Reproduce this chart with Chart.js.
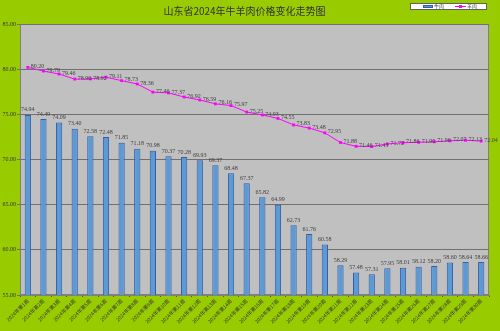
<!DOCTYPE html>
<html>
<head>
<meta charset="utf-8">
<title>山东省2024年牛羊肉价格变化走势图</title>
<script src="https://cdn.jsdelivr.net/npm/chart.js@4.4.1/dist/chart.umd.min.js"></script>
<style>
  html, body { margin: 0; padding: 0; background: #fff; }
  #wrap { width: 500px; height: 331px; }
</style>
</head>
<body>
<div id="wrap"><canvas id="priceChart" width="500" height="331"></canvas></div>
<script>
const weeks = [
  "2024年第1周", "2024年第2周", "2024年第3周", "2024年第4周", "2024年第5周",
  "2024年第6周", "2024年第7周", "2024年第8周", "2024年第9周", "2024年第10周",
  "2024年第11周", "2024年第12周", "2024年第13周", "2024年第14周", "2024年第15周",
  "2024年第16周", "2024年第17周", "2024年第18周", "2024年第19周", "2024年第20周",
  "2024年第21周", "2024年第22周", "2024年第23周", "2024年第24周", "2024年第25周",
  "2024年第26周", "2024年第27周", "2024年第28周", "2024年第29周", "2024年第30周"
];

// 牛肉 (bars)
const beef = [
  74.94, 74.49, 74.09, 73.40, 72.58, 72.48, 71.85, 71.18, 70.98, 70.37,
  70.28, 69.93, 69.37, 68.48, 67.37, 65.82, 64.99, 62.73, 61.76, 60.58,
  58.29, 57.48, 57.31, 57.95, 58.01, 58.12, 58.20, 58.60, 58.64, 58.66
];

// 羊肉 (line)
const mutton = [
  80.20, 79.79, 79.46, 78.90, 78.92, 79.11, 78.73, 78.36, 77.46, 77.37,
  76.92, 76.59, 76.16, 75.97, 75.25, 74.93, 74.55, 73.83, 73.48, 72.95,
  71.88, 71.46, 71.43, 71.72, 71.86, 71.90, 71.96, 72.07, 72.13, 72.04
];

const yTicks = [55, 60, 65, 70, 75, 80, 85];

const numFont = '"Liberation Serif", "DejaVu Serif", serif';
const cjkFont = '"Noto Sans CJK SC", sans-serif';

// green frame + grey plot area
const backdrop = {
  id: 'backdrop',
  beforeDraw(chart) {
    const { ctx, chartArea: a } = chart;
    ctx.save();
    ctx.fillStyle = '#99cc00';
    ctx.fillRect(0, 0, chart.width, chart.height);
    ctx.fillStyle = '#c0c0c0';
    ctx.fillRect(a.left, a.top, a.right - a.left, a.bottom - a.top);
    ctx.strokeStyle = '#808080';
    ctx.lineWidth = 1;
    ctx.strokeRect(a.left + 0.5, a.top + 0.5, a.right - a.left - 1, a.bottom - a.top - 1);
    ctx.restore();
  }
};

// numbers above bars and beside line points
const valueLabels = {
  id: 'valueLabels',
  afterDatasetsDraw(chart) {
    const ctx = chart.ctx;
    ctx.save();
    ctx.font = '6px ' + numFont;
    ctx.fillStyle = '#404040';
    chart.getDatasetMeta(0).data.forEach((el, i) => {
      ctx.textAlign = 'center';
      ctx.textBaseline = 'bottom';
      ctx.fillText(beef[i].toFixed(2), el.x, el.y - 2);
    });
    chart.getDatasetMeta(1).data.forEach((el, i) => {
      ctx.textAlign = 'left';
      ctx.textBaseline = 'middle';
      ctx.fillText(mutton[i].toFixed(2), el.x + 3, el.y - 1);
    });
    ctx.restore();
  }
};

// small boxed legend in the top right corner
const cornerLegend = {
  id: 'cornerLegend',
  afterDraw(chart) {
    const ctx = chart.ctx;
    ctx.save();
    ctx.fillStyle = '#ffffff';
    ctx.fillRect(410, 3, 77, 7);
    ctx.strokeStyle = '#606060';
    ctx.lineWidth = 1;
    ctx.strokeRect(410.5, 3.5, 76, 6);
    ctx.fillStyle = '#5b9bd5';
    ctx.fillRect(423, 5, 10, 3);
    ctx.strokeStyle = '#3a5aa8';
    ctx.strokeRect(423.5, 5.5, 9, 2);
    ctx.strokeStyle = '#ff00ff';
    ctx.beginPath();
    ctx.moveTo(455, 6.5);
    ctx.lineTo(466, 6.5);
    ctx.stroke();
    ctx.fillStyle = '#ff00ff';
    ctx.fillRect(459, 5, 3, 3);
    ctx.font = '5px ' + cjkFont;
    ctx.fillStyle = '#404040';
    ctx.textBaseline = 'middle';
    ctx.fillText('牛肉', 434, 6.5);
    ctx.fillText('羊肉', 467, 6.5);
    ctx.restore();
  }
};

new Chart(document.getElementById('priceChart'), {
  data: {
    labels: weeks,
    datasets: [
      {
        type: 'bar',
        label: '牛肉',
        data: beef,
        backgroundColor: '#5b9bd5',
        borderColor: '#3a5aa8',
        borderWidth: 1,
        categoryPercentage: 1,
        barPercentage: 0.4,
        order: 2
      },
      {
        type: 'line',
        label: '羊肉',
        data: mutton,
        borderColor: '#ff00ff',
        borderWidth: 1,
        backgroundColor: '#ff00ff',
        pointStyle: 'rect',
        pointRadius: 2,
        pointBorderWidth: 0,
        tension: 0,
        order: 1
      }
    ]
  },
  options: {
    responsive: false,
    animation: false,
    devicePixelRatio: 1,
    layout: { padding: { left: 0, right: 11, top: 0, bottom: 0 } },
    plugins: {
      legend: { display: false },
      tooltip: { enabled: false },
      title: {
        display: true,
        text: '山东省2024年牛羊肉价格变化走势图',
        color: '#333333',
        font: { family: cjkFont, size: 10, weight: 'normal' },
        padding: { top: 5, bottom: 7 }
      }
    },
    scales: {
      x: {
        offset: true,
        grid: { display: true, drawOnChartArea: false, tickLength: 2, color: '#505050' },
        border: { color: '#808080' },
        ticks: {
          autoSkip: false,
          maxRotation: 45,
          minRotation: 45,
          padding: 1,
          color: '#333333',
          font: { family: cjkFont, size: 5 }
        },
        afterFit(s) { s.height = 36; }
      },
      y: {
        min: 55,
        max: 85,
        afterBuildTicks(s) { s.ticks = yTicks.map(v => ({ value: v })); },
        grid: { color: '#707070', tickLength: 3 },
        border: { color: '#808080' },
        ticks: {
          padding: 1,
          color: '#333333',
          font: { family: numFont, size: 6 },
          callback: v => v.toFixed(2)
        },
        afterFit(s) { s.width = 20; }
      }
    }
  },
  plugins: [backdrop, valueLabels, cornerLegend]
});
</script>
</body>
</html>
